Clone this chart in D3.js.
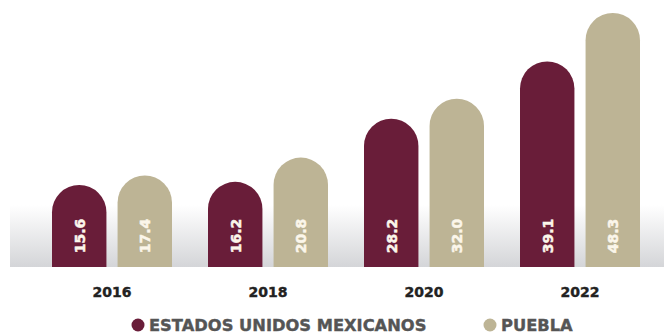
<!DOCTYPE html>
<html><head><meta charset="utf-8">
<script src="https://cdn.jsdelivr.net/npm/d3@7"></script>
<style>html,body{margin:0;padding:0;background:#fff;}svg{display:block;}</style>
</head><body>
<svg id="c" width="664" height="335"></svg>
<script>
const years = ["2016","2018","2020","2022"];
const seriesNames = ["ESTADOS UNIDOS MEXICANOS","PUEBLA"];
const mexico = [15.6, 16.2, 28.2, 39.1];
const puebla = [17.4, 20.8, 32.0, 48.3];
const colors = ["#691d39", "#bdb495"];
const FONT = "'DejaVu Sans', sans-serif";

const svg = d3.select("#c");
const W = 664, H = 335;
const base = 267;
const x0 = d3.scaleBand().domain(years).range([34, 658]).paddingInner(0).paddingOuter(0);
const x1 = d3.scaleBand().domain([0,1]).range([0, 120]).paddingInner(0.17);
const y = d3.scaleLinear().domain([0, 48.3]).range([base, 13]);

const defs = svg.append("defs");
const g = defs.append("linearGradient").attr("id","band").attr("x1",0).attr("y1",0).attr("x2",0).attr("y2",1);
g.append("stop").attr("offset","0%").attr("stop-color","#ffffff");
g.append("stop").attr("offset","100%").attr("stop-color","#d4d5d8");
svg.append("rect").attr("x",10).attr("y",205).attr("width",W-10).attr("height",base-205).attr("fill","url(#band)");

const data = [];
years.forEach((yr,i)=>{ [mexico[i], puebla[i]].forEach((v,s)=>data.push({yr, s, v})); });

function barPath(d){
  const bw = x1.bandwidth();
  const xl = x0(d.yr) + (x0.bandwidth()-120)/2 + x1(d.s);
  const r = bw/2;
  const top = y(d.v);
  return `M${xl},${base}V${top+r}A${r},${r} 0 0 1 ${xl+bw},${top+r}V${base}Z`;
}
svg.selectAll("path.bar").data(data).join("path").attr("class","bar")
  .attr("d", barPath).attr("fill", d=>colors[d.s]);

svg.selectAll("text.val").data(data).join("text").attr("class","val")
  .attr("transform", d=>{
    const cx = x0(d.yr) + (x0.bandwidth()-120)/2 + x1(d.s) + x1.bandwidth()/2;
    return `translate(${cx+5.5},${base-31}) rotate(-90)`;
  })
  .attr("text-anchor","middle")
  .attr("font-family",FONT).attr("font-weight","bold").attr("font-size","14px")
  .attr("fill","#fbf6ea").attr("stroke","#fbf6ea").attr("stroke-width",0.5)
  .text(d=>d.v.toFixed(1));

const ax = d3.axisBottom(x0).tickSize(0).tickPadding(0);
const axg = svg.append("g").attr("transform",`translate(0,${base+20})`).call(ax);
axg.select(".domain").remove();
axg.selectAll("text").attr("font-family",FONT).attr("font-weight","bold")
  .attr("font-size","14px").attr("fill","#222").attr("stroke","#222").attr("stroke-width",0.4)
  .attr("dy","0.71em");

const legX = [138, 490];
const leg = svg.selectAll("g.leg").data(seriesNames).join("g").attr("class","leg")
  .attr("transform",(d,i)=>`translate(${legX[i]},325)`);
leg.append("circle").attr("r",6.5).attr("fill",(d,i)=>colors[i]);
leg.append("text").attr("x",11).attr("y",6).attr("font-family",FONT)
  .attr("font-weight","bold").attr("font-size","16.3px").attr("fill","#555")
  .attr("stroke","#555").attr("stroke-width",0.4).text(d=>d);
</script>
</body></html>
